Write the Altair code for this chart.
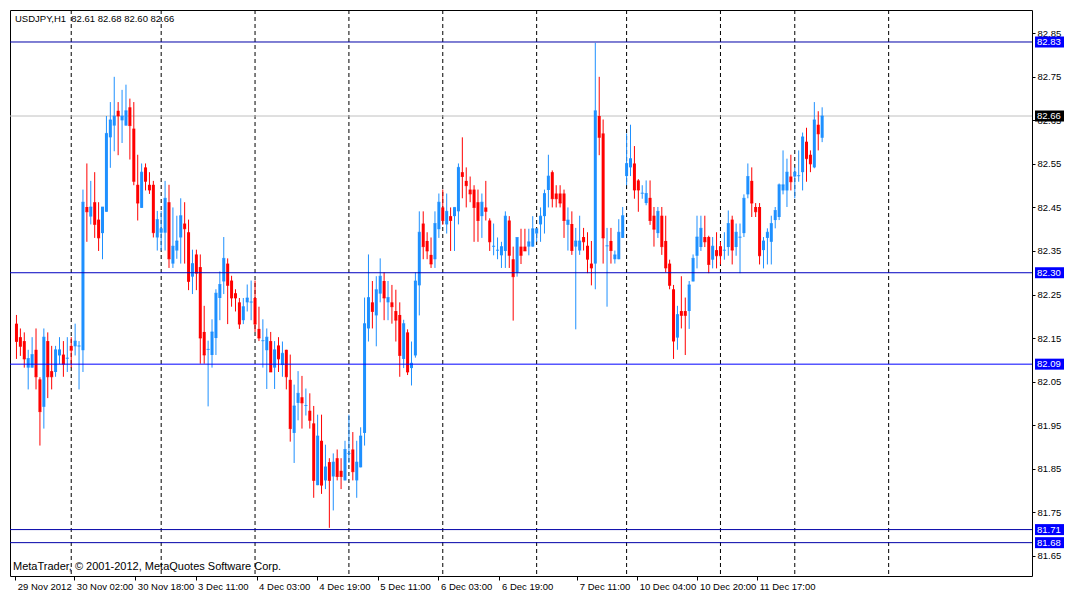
import altair as alt
import pandas as pd

# ---------------- data ----------------
opens = [82.183, 82.152, 82.143, 82.082, 82.082, 82.123, 82.055, 81.992, 82.143, 82.074,
         82.072, 82.110, 82.112, 82.103, 82.132, 82.131, 82.131, 82.122, 82.451, 82.429,
         82.462, 82.422, 82.391, 82.440, 82.611, 82.638, 82.672, 82.650, 82.638, 82.680,
         82.631, 82.502, 82.449, 82.542, 82.502, 82.502, 82.381, 82.392, 82.392, 82.462,
         82.321, 82.351, 82.381, 82.413, 82.393, 82.291, 82.342, 82.313, 82.164, 82.123,
         82.111, 82.150, 82.242, 82.280, 82.321, 82.282, 82.253, 82.232, 82.191, 82.232,
         82.232, 82.242, 82.171, 82.143, 82.122, 82.143, 82.082, 82.133, 82.088, 82.123,
         82.054, 81.932, 82.001, 82.014, 81.994, 81.983, 81.954, 81.812, 81.914, 81.823,
         81.865, 81.832, 81.874, 81.845, 81.823, 81.884, 81.894, 81.823, 81.853, 81.932,
         82.172, 82.232, 82.202, 82.252, 82.281, 82.232, 82.232, 82.212, 82.203, 82.102,
         82.163, 82.081, 82.110, 82.271, 82.413, 82.373, 82.341, 82.331, 82.400, 82.450,
         82.411, 82.430, 82.430, 82.441, 82.531, 82.511, 82.491, 82.491, 82.462, 82.430,
         82.450, 82.420, 82.360, 82.351, 82.340, 82.350, 82.420, 82.331, 82.301, 82.360,
         82.360, 82.360, 82.360, 82.390, 82.411, 82.430, 82.490, 82.531, 82.482, 82.482,
         82.482, 82.410, 82.412, 82.360, 82.351, 82.382, 82.362, 82.321, 82.321, 82.660,
         82.620, 82.361, 82.373, 82.331, 82.331, 82.380, 82.522, 82.542, 82.551, 82.512,
         82.482, 82.460, 82.472, 82.431, 82.391, 82.431, 82.373, 82.321, 82.262, 82.151,
         82.212, 82.212, 82.212, 82.280, 82.339, 82.359, 82.382, 82.382, 82.330, 82.352,
         82.361, 82.351, 82.359, 82.422, 82.359, 82.381, 82.391, 82.480, 82.511, 82.451,
         82.451, 82.352, 82.380, 82.371, 82.421, 82.428, 82.489, 82.489, 82.521, 82.521,
         82.522, 82.531, 82.601, 82.571, 82.542, 82.640, 82.610]
highs = [82.203, 82.172, 82.163, 82.123, 82.152, 82.172, 82.060, 82.172, 82.163, 82.132,
         82.132, 82.152, 82.143, 82.152, 82.152, 82.183, 82.143, 82.491, 82.551, 82.511,
         82.531, 82.462, 82.451, 82.660, 82.692, 82.750, 82.692, 82.720, 82.732, 82.700,
         82.692, 82.571, 82.551, 82.551, 82.531, 82.511, 82.442, 82.442, 82.511, 82.502,
         82.450, 82.431, 82.471, 82.462, 82.422, 82.353, 82.353, 82.342, 82.224, 82.144,
         82.193, 82.262, 82.303, 82.382, 82.333, 82.293, 82.262, 82.242, 82.242, 82.273,
         82.282, 82.282, 82.222, 82.193, 82.172, 82.164, 82.143, 82.152, 82.142, 82.123,
         82.112, 82.043, 82.074, 82.063, 82.034, 82.023, 81.994, 81.974, 81.974, 81.905,
         81.874, 81.885, 81.894, 81.874, 81.914, 81.974, 81.934, 81.914, 81.945, 82.243,
         82.342, 82.281, 82.292, 82.333, 82.301, 82.281, 82.272, 82.261, 82.232, 82.192,
         82.170, 82.142, 82.301, 82.441, 82.441, 82.393, 82.381, 82.441, 82.482, 82.491,
         82.482, 82.450, 82.450, 82.551, 82.611, 82.542, 82.521, 82.501, 82.491, 82.482,
         82.511, 82.425, 82.413, 82.381, 82.371, 82.441, 82.430, 82.360, 82.381, 82.401,
         82.401, 82.401, 82.430, 82.401, 82.450, 82.491, 82.571, 82.535, 82.501, 82.501,
         82.491, 82.450, 82.441, 82.403, 82.431, 82.403, 82.393, 82.373, 82.828, 82.750,
         82.652, 82.403, 82.403, 82.351, 82.423, 82.451, 82.620, 82.640, 82.591, 82.515,
         82.501, 82.512, 82.512, 82.451, 82.451, 82.451, 82.431, 82.330, 82.272, 82.224,
         82.292, 82.243, 82.281, 82.342, 82.431, 82.431, 82.431, 82.385, 82.382, 82.393,
         82.371, 82.393, 82.443, 82.431, 82.413, 82.413, 82.480, 82.551, 82.542, 82.460,
         82.460, 82.382, 82.402, 82.431, 82.451, 82.505, 82.581, 82.562, 82.571, 82.542,
         82.581, 82.622, 82.633, 82.581, 82.692, 82.671, 82.680]
lows = [82.102, 82.109, 82.082, 82.032, 82.082, 82.032, 81.903, 81.942, 82.012, 82.032,
        82.061, 82.090, 82.061, 82.072, 82.082, 82.110, 82.032, 82.072, 82.371, 82.411,
        82.380, 82.350, 82.331, 82.440, 82.541, 82.579, 82.570, 82.598, 82.638, 82.560,
        82.501, 82.420, 82.449, 82.489, 82.481, 82.381, 82.351, 82.351, 82.351, 82.311,
        82.311, 82.332, 82.321, 82.321, 82.260, 82.251, 82.260, 82.091, 82.091, 81.993,
        82.082, 82.111, 82.191, 82.251, 82.182, 82.222, 82.211, 82.171, 82.182, 82.211,
        82.191, 82.164, 82.143, 82.082, 82.033, 82.072, 82.033, 82.072, 82.061, 82.032,
        81.912, 81.863, 81.961, 81.942, 81.972, 81.942, 81.783, 81.812, 81.792, 81.803,
        81.714, 81.754, 81.823, 81.803, 81.823, 81.863, 81.823, 81.783, 81.853, 81.903,
        82.142, 82.172, 82.131, 82.232, 82.191, 82.191, 82.183, 82.142, 82.061, 82.081,
        82.065, 82.041, 82.105, 82.202, 82.331, 82.331, 82.311, 82.311, 82.380, 82.410,
        82.390, 82.350, 82.350, 82.411, 82.471, 82.450, 82.462, 82.371, 82.371, 82.380,
        82.420, 82.350, 82.340, 82.331, 82.311, 82.311, 82.311, 82.190, 82.291, 82.320,
        82.350, 82.340, 82.360, 82.371, 82.371, 82.390, 82.450, 82.450, 82.450, 82.450,
        82.380, 82.351, 82.341, 82.170, 82.341, 82.351, 82.299, 82.271, 82.262, 82.570,
        82.321, 82.222, 82.321, 82.321, 82.331, 82.380, 82.501, 82.522, 82.470, 82.440,
        82.470, 82.455, 82.410, 82.360, 82.380, 82.341, 82.301, 82.262, 82.102, 82.123,
        82.172, 82.111, 82.171, 82.280, 82.310, 82.350, 82.359, 82.299, 82.310, 82.310,
        82.319, 82.330, 82.339, 82.319, 82.339, 82.299, 82.382, 82.471, 82.428, 82.428,
        82.319, 82.310, 82.319, 82.319, 82.402, 82.421, 82.480, 82.451, 82.489, 82.471,
        82.509, 82.489, 82.509, 82.531, 82.540, 82.581, 82.600]
closes = [82.142, 82.131, 82.102, 82.103, 82.112, 82.061, 81.981, 82.152, 82.061, 82.061,
          82.123, 82.123, 82.090, 82.104, 82.122, 82.143, 82.132, 82.462, 82.440, 82.451,
          82.411, 82.380, 82.451, 82.620, 82.651, 82.660, 82.660, 82.660, 82.672, 82.638,
          82.510, 82.460, 82.531, 82.510, 82.490, 82.392, 82.422, 82.401, 82.471, 82.332,
          82.361, 82.373, 82.431, 82.401, 82.280, 82.321, 82.299, 82.150, 82.111, 82.124,
          82.164, 82.253, 82.273, 82.333, 82.271, 82.242, 82.242, 82.182, 82.222, 82.242,
          82.233, 82.182, 82.150, 82.144, 82.152, 82.072, 82.123, 82.102, 82.115, 82.061,
          81.942, 81.994, 82.023, 82.001, 81.995, 81.961, 81.823, 81.925, 81.812, 81.854,
          81.823, 81.865, 81.832, 81.832, 81.894, 81.885, 81.843, 81.865, 81.925, 82.183,
          82.243, 82.211, 82.261, 82.292, 82.242, 82.243, 82.222, 82.191, 82.110, 82.183,
          82.072, 82.092, 82.281, 82.393, 82.360, 82.350, 82.320, 82.413, 82.462, 82.420,
          82.441, 82.420, 82.450, 82.542, 82.521, 82.500, 82.481, 82.450, 82.420, 82.462,
          82.441, 82.371, 82.361, 82.352, 82.360, 82.430, 82.340, 82.291, 82.381, 82.340,
          82.350, 82.371, 82.401, 82.401, 82.430, 82.482, 82.522, 82.470, 82.470, 82.460,
          82.420, 82.421, 82.351, 82.373, 82.373, 82.371, 82.331, 82.311, 82.672, 82.611,
          82.380, 82.362, 82.351, 82.341, 82.393, 82.431, 82.551, 82.562, 82.490, 82.490,
          82.483, 82.482, 82.420, 82.400, 82.441, 82.360, 82.311, 82.271, 82.143, 82.204,
          82.202, 82.202, 82.272, 82.333, 82.382, 82.402, 82.371, 82.319, 82.361, 82.339,
          82.339, 82.352, 82.413, 82.352, 82.393, 82.382, 82.471, 82.521, 82.460, 82.440,
          82.339, 82.373, 82.393, 82.413, 82.443, 82.502, 82.502, 82.531, 82.509, 82.531,
          82.523, 82.612, 82.562, 82.550, 82.651, 82.619, 82.660]

level_prices = [82.83, 82.30, 82.09, 81.71, 81.68]
level_labels = ["82.83", "82.30", "82.09", "81.71", "81.68"]
level_colors = ["#0000A8", "#0000C0", "#0000FF", "#0000A8", "#0000A8"]
bid_price = 82.66
bid_label = "82.66"

y_ticks = [81.65, 81.75, 81.85, 81.95, 82.05, 82.15, 82.25, 82.35, 82.45,
           82.55, 82.65, 82.75, 82.85]
x_tick_bars = [-0.3, 14.8, 30.4, 45.8, 61.4, 76.8, 92.4, 107.9, 123.5,
               143.4, 158.7, 174.1, 189.4]
x_tick_labels = ["29 Nov 2012", "30 Nov 02:00", "30 Nov 18:00", "3 Dec 11:00",
                 "4 Dec 03:00", "4 Dec 19:00", "5 Dec 11:00", "6 Dec 03:00",
                 "6 Dec 19:00", "7 Dec 11:00", "10 Dec 04:00", "10 Dec 20:00",
                 "11 Dec 17:00"]
grid_bars = [14, 37, 61, 85, 109, 133, 156, 180, 199, 223]

title_text = "USDJPY,H1\u00a0 82.61 82.68 82.60 82.66"
copyright_text = "MetaTrader, \u00a9 2001-2012, MetaQuotes Software Corp."

# ---------------- layout ----------------
W, H = 1022, 566
X_DOM = [-0.375, 258.375]
Y_DOM = [81.6034, 82.9035]
FONT = "Liberation Sans"
UP, DOWN = "#1E90FF", "#FF0000"

n = len(opens)
df = pd.DataFrame({"bar": list(range(n)), "open": opens, "high": highs,
                   "low": lows, "close": closes})
df["dir"] = ["up" if c >= o else "down" for o, c in zip(df["open"], df["close"])]

px_per_price = H / (Y_DOM[1] - Y_DOM[0])
half_box = 5.5 / px_per_price

lv = pd.DataFrame({"price": level_prices + [bid_price],
                   "label": level_labels + [bid_label],
                   "col": level_colors + ["#000000"],
                   "kind": ["level"] * len(level_prices) + ["bid"]})
lv["top"] = lv["price"] + half_box
lv["bot"] = lv["price"] - half_box

grid_df = pd.DataFrame({"bar": grid_bars})
txt_df = pd.DataFrame({"t": [title_text], "c": [copyright_text]})

xs = alt.Scale(domain=X_DOM, nice=False, zero=False)
ys = alt.Scale(domain=Y_DOM, nice=False, zero=False)
color = alt.Color("dir:N", scale=alt.Scale(domain=["up", "down"], range=[UP, DOWN]),
                  legend=None)

vals_js = "[" + ",".join(repr(v) for v in x_tick_bars) + "]"
labs_js = "[" + ",".join("'" + s + "'" for s in x_tick_labels) + "]"

x_axis = alt.Axis(orient="bottom", values=x_tick_bars, title=None, grid=False,
                  domain=False, tickSize=4, tickColor="black", labelAlign="left",
                  labelOffset=2, labelPadding=1, labelOverlap=False, labelFlush=False,
                  labelBound=False, labelFont=FONT, labelFontSize=9.5,
                  labelColor="black",
                  labelExpr=f"{labs_js}[indexof({vals_js}, datum.value)]")
y_axis = alt.Axis(orient="right", values=y_ticks, title=None, grid=False,
                  domain=False, tickSize=3, tickColor="black", labelPadding=2,
                  labelOverlap=False, labelFlush=False, labelBound=False,
                  labelFont=FONT, labelFontSize=9.5, labelColor="black",
                  labelBaseline="middle", format=".2f")


def X(field):
    return alt.X(field, scale=xs, axis=x_axis, title=None)


def Y(field):
    return alt.Y(field, scale=ys, axis=y_axis, title=None)


grid = alt.Chart(grid_df).mark_rule(color="black", strokeWidth=1,
                                     strokeDash=[4, 3]).encode(x=X("bar:Q"))

bid_rule = alt.Chart(lv).transform_filter("datum.kind == 'bid'").mark_rule(
    color="#C0C0C0", strokeWidth=1).encode(y=Y("price:Q"))

wicks = alt.Chart(df).mark_rule(strokeWidth=1).encode(
    x=X("bar:Q"), y=Y("low:Q"), y2="high:Q", color=color)

bodies = alt.Chart(df).mark_bar(size=3).encode(
    x=X("bar:Q"), y=Y("open:Q"), y2="close:Q", color=color)

ticks = alt.Chart(df).mark_tick(orient="horizontal", size=3, thickness=1).encode(
    x=X("bar:Q"), y=Y("close:Q"), color=color)

level_rules = alt.Chart(lv).transform_filter("datum.kind == 'level'").mark_rule(
    strokeWidth=1).encode(y=Y("price:Q"), color=alt.Color("col:N", scale=None))

boxes = alt.Chart(lv).mark_rect().encode(
    x=alt.value(W + 3), x2=alt.value(W + 32),
    y=Y("top:Q"), y2="bot:Q",
    color=alt.condition("datum.kind == 'bid'", alt.value("#000000"),
                        alt.value("#0000FF")))

box_text = alt.Chart(lv).mark_text(align="left", baseline="middle", font=FONT,
                                   fontSize=9.5, color="white").encode(
    x=alt.value(W + 5), y=Y("price:Q"), text="label:N")

title = alt.Chart(txt_df).mark_text(align="left", baseline="middle", font=FONT,
                                    fontSize=9.5, color="black").encode(
    x=alt.value(5), y=alt.value(9), text="t:N")

copyright_ = alt.Chart(txt_df).mark_text(align="left", baseline="middle", font=FONT,
                                         fontSize=11, color="black").encode(
    x=alt.value(3), y=alt.value(H - 9), text="c:N")

chart = alt.layer(grid, bid_rule, wicks, bodies, ticks, level_rules, boxes, box_text,
                  title, copyright_).properties(
    width=W, height=H, background="white",
    padding={"left": 1, "top": 1, "right": 1, "bottom": 1}
).configure_view(stroke="black", strokeWidth=1)

chart.save("out.html", embed_options={"renderer": "svg", "actions": False})
